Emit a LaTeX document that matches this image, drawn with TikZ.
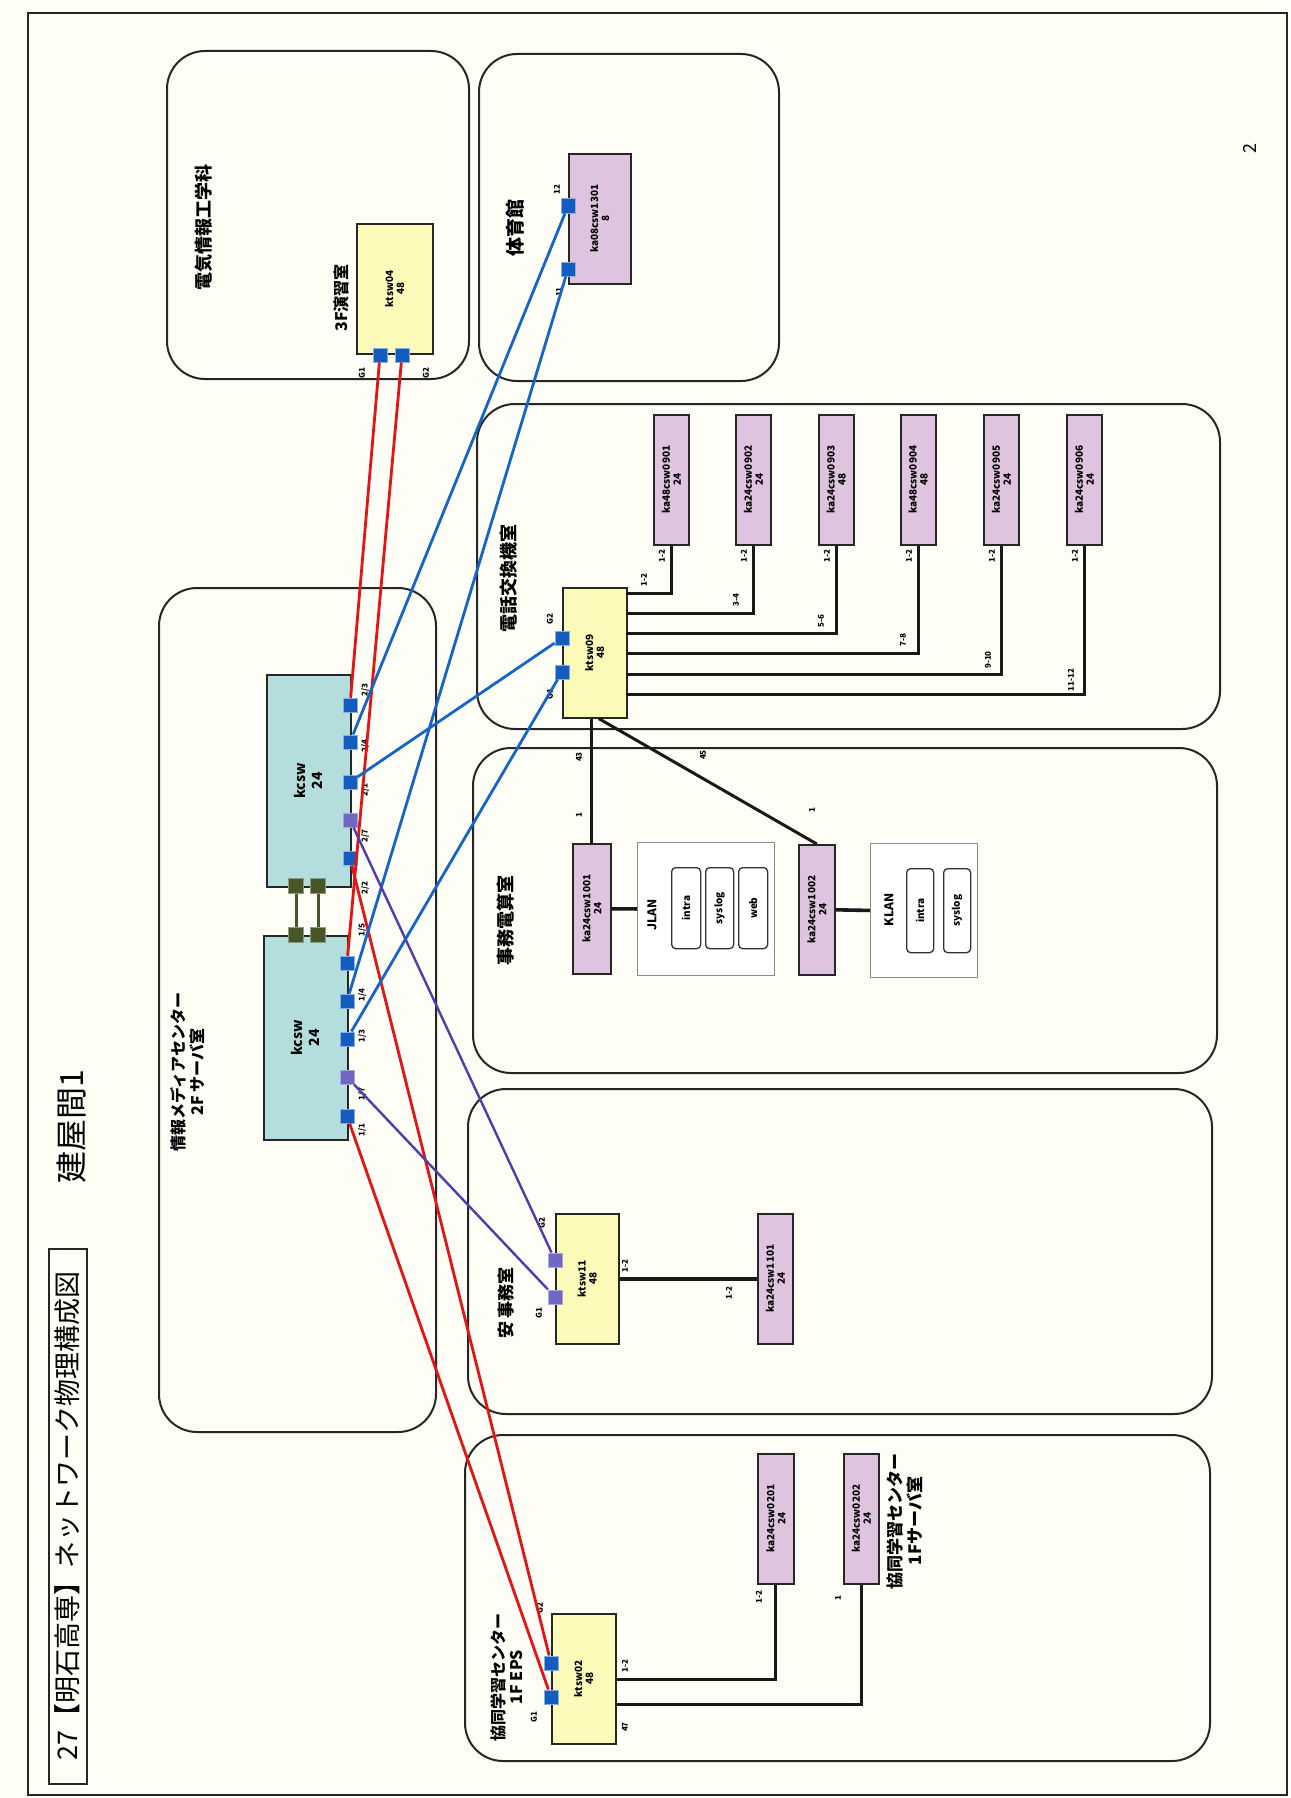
\documentclass[tikz,border=0pt]{standalone}
\usepackage{fontspec}
\setmainfont{Noto Sans CJK JP}
\usetikzlibrary{calc}
\definecolor{bgc}{RGB}{254,254,246}
\definecolor{yfill}{RGB}{252,250,185}
\definecolor{pfill}{RGB}{222,196,222}
\definecolor{cfill}{RGB}{180,222,222}
\definecolor{redl}{RGB}{228,20,20}
\definecolor{bluel}{RGB}{22,100,200}
\definecolor{purl}{RGB}{80,60,170}
\definecolor{portb}{RGB}{22,92,190}
\definecolor{portedge}{RGB}{130,175,230}
\definecolor{portp}{RGB}{112,104,192}
\definecolor{portpedge}{RGB}{170,165,225}
\definecolor{linkg}{RGB}{70,86,40}
\begin{document}
\begin{tikzpicture}[x=1pt,y=-1pt,
  room/.style={draw=black!85, line width=2pt, rounded corners=38pt, anchor=north west, inner sep=0pt},
  sw/.style={draw=black!85, line width=1.6pt, anchor=north west, inner sep=0pt},
  ysw/.style={sw, fill=yfill},
  psw/.style={sw, fill=pfill},
  csw/.style={sw, fill=cfill},
  swtext/.style={rotate=90, align=center, font=\fontsize{10}{11}\selectfont\bfseries},
  port/.style={fill=portb, draw=portedge, line width=1pt, minimum size=14pt, inner sep=0pt},
  pport/.style={port, fill=portp, draw=portpedge},
  lport/.style={fill=linkg, draw=linkg!60, line width=0.8pt, minimum size=15pt, inner sep=0pt},
  plabel/.style={rotate=90, font=\fontsize{8}{9}\selectfont\bfseries, inner sep=0pt},
  rlabel/.style={rotate=90, align=center, font=\fontsize{18}{21}\selectfont\bfseries},
  lanbox/.style={draw=black!45, line width=0.9pt, anchor=north west, fill=white, inner sep=0pt},
  inbox/.style={draw=black!80, line width=1.3pt, rounded corners=4pt, fill=white, anchor=north west, inner sep=0pt},
  redc/.style={draw=redl, line width=2.8pt},
  bluec/.style={draw=bluel, line width=2.8pt},
  purc/.style={draw=purl, line width=2.4pt},
  linkc/.style={draw=linkg, line width=3pt},
  blk/.style={draw=black!90, line width=3pt}]
\fill[bgc] (0,0) rectangle (1290,1798);
\useasboundingbox (0,0) rectangle (1290,1798);
\draw[line width=1.6pt, black!85] (28,13) rectangle (1287,1795);

% title
\node[draw=black!85, line width=1.5pt, minimum width=38pt, minimum height=535pt, anchor=north west, inner sep=0pt] (titlebox) at (48,1248) {};
\node[rotate=90, font=\fontsize{27}{29}\selectfont] (title) at (titlebox.center) {27【明石高専】ネットワーク物理構成図};
\node[rotate=90, font=\fontsize{32}{34}\selectfont] (bldg) at (71,1127) {建屋間1};
\node[rotate=90, font=\fontsize{18}{20}\selectfont] (pgno) at (1250,149) {2};

% rooms
\node[room, minimum width=302pt, minimum height=328pt] (r1) at (166,50) {};
\node[room, minimum width=300pt, minimum height=327pt] (r2) at (478,53) {};
\node[room, minimum width=277pt, minimum height=844pt] (r3) at (158,587) {};
\node[room, minimum width=743pt, minimum height=325pt] (r4) at (476,403) {};
\node[room, minimum width=744pt, minimum height=325pt] (r5) at (472,747) {};
\node[room, minimum width=744pt, minimum height=325pt] (r6) at (467,1088) {};
\node[room, minimum width=745pt, minimum height=326pt] (r7) at (464,1434) {};

% room labels
\node[rlabel] (r1t) at (204,227) {電気情報工学科};
\node[rlabel, font=\fontsize{16}{18}\selectfont\bfseries] (r1s) at (341,298) {3F演習室};
\node[rlabel, font=\fontsize{19}{21}\selectfont\bfseries] (r2t) at (515,228) {体育館};
\node[rlabel, font=\fontsize{16}{19}\selectfont\bfseries] (r3t) at (188,1072) {情報メディアセンター\\2F サーバ室};
\node[rlabel] (r4t) at (509,578) {電話交換機室};
\node[rlabel] (r5t) at (506,920) {事務電算室};
\node[rlabel, font=\fontsize{17}{20}\selectfont\bfseries] (r6t) at (506,1303) {安\ 事務室};
\node[rlabel, font=\fontsize{16}{18}\selectfont\bfseries] (r7t) at (507,1677) {協同学習センター\\1F EPS};
\node[rlabel, font=\fontsize{17}{20}\selectfont\bfseries] (r7s) at (905,1521) {協同学習センター\\1Fサーバ室};

% switches
\node[ysw, minimum width=76pt, minimum height=130pt] (k4) at (356,223) {};
\node[swtext] (k4t) at (k4.center) {ktsw04\\48};
\node[psw, minimum width=62pt, minimum height=130pt] (ka08) at (568,153) {};
\node[swtext] (ka08t) at (ka08.center) {ka08csw1301\\8};
\node[csw, minimum width=84pt, minimum height=212pt] (ku) at (266,674) {};
\node[swtext, font=\fontsize{14}{17}\selectfont\bfseries] (kut) at (ku.center) {kcsw\\24};
\node[csw, minimum width=84pt, minimum height=204pt] (kl) at (263,935) {};
\node[swtext, font=\fontsize{14}{17}\selectfont\bfseries] (klt) at (kl.center) {kcsw\\24};
\node[ysw, minimum width=64pt, minimum height=130pt] (k9) at (562,587) {};
\node[swtext] (k9t) at (k9.center) {ktsw09\\48};

\node[psw, minimum width=35pt, minimum height=130pt] (p1) at (653,414) {};
\node[swtext] (p1t) at (p1.center) {ka48csw0901\\24};
\node[psw, minimum width=35pt, minimum height=130pt] (p2) at (735,414) {};
\node[swtext] (p2t) at (p2.center) {ka24csw0902\\24};
\node[psw, minimum width=35pt, minimum height=130pt] (p3) at (818,414) {};
\node[swtext] (p3t) at (p3.center) {ka24csw0903\\48};
\node[psw, minimum width=35pt, minimum height=130pt] (p4) at (900,414) {};
\node[swtext] (p4t) at (p4.center) {ka48csw0904\\48};
\node[psw, minimum width=35pt, minimum height=130pt] (p5) at (983,414) {};
\node[swtext] (p5t) at (p5.center) {ka24csw0905\\24};
\node[psw, minimum width=35pt, minimum height=130pt] (p6) at (1066,414) {};
\node[swtext] (p6t) at (p6.center) {ka24csw0906\\24};

\node[psw, minimum width=38pt, minimum height=130pt] (p1001) at (572,843) {};
\node[swtext] (p1001t) at (p1001.center) {ka24csw1001\\24};
\node[lanbox, minimum width=137pt, minimum height=133pt] (jlan) at (637,842) {};
\node[rotate=90, font=\fontsize{12}{14}\selectfont\bfseries] (jlant) at (652,915) {JLAN};
\node[inbox, minimum width=29pt, minimum height=81pt] (ji) at (671,867) {};
\node[rotate=90, font=\fontsize{10}{12}\selectfont\bfseries] (jit) at (ji.center) {intra};
\node[inbox, minimum width=28pt, minimum height=81pt] (js) at (705,867) {};
\node[rotate=90, font=\fontsize{10}{12}\selectfont\bfseries] (jst) at (js.center) {syslog};
\node[inbox, minimum width=29pt, minimum height=81pt] (jw) at (738,867) {};
\node[rotate=90, font=\fontsize{10}{12}\selectfont\bfseries] (jwt) at (jw.center) {web};

\node[psw, minimum width=36pt, minimum height=130pt] (p1002) at (798,844) {};
\node[swtext] (p1002t) at (p1002.center) {ka24csw1002\\24};
\node[lanbox, minimum width=107pt, minimum height=134pt] (klan) at (870,843) {};
\node[rotate=90, font=\fontsize{12}{14}\selectfont\bfseries] (klant) at (889,910) {KLAN};
\node[inbox, minimum width=27pt, minimum height=84pt] (ki) at (906,868) {};
\node[rotate=90, font=\fontsize{10}{12}\selectfont\bfseries] (kit) at (ki.center) {intra};
\node[inbox, minimum width=27pt, minimum height=84pt] (ks) at (943,868) {};
\node[rotate=90, font=\fontsize{10}{12}\selectfont\bfseries] (kst) at (ks.center) {syslog};

\node[ysw, minimum width=63pt, minimum height=130pt] (k11) at (555,1213) {};
\node[swtext] (k11t) at (k11.center) {ktsw11\\48};
\node[psw, minimum width=35pt, minimum height=130pt] (p1101) at (757,1213) {};
\node[swtext] (p1101t) at (p1101.center) {ka24csw1101\\24};

\node[ysw, minimum width=64pt, minimum height=130pt] (k2) at (551,1613) {};
\node[swtext] (k2t) at (k2.center) {ktsw02\\48};
\node[psw, minimum width=36pt, minimum height=130pt] (p201) at (757,1453) {};
\node[swtext] (p201t) at (p201.center) {ka24csw0201\\24};
\node[psw, minimum width=35pt, minimum height=130pt] (p202) at (843,1453) {};
\node[swtext] (p202t) at (p202.center) {ka24csw0202\\24};

% ports
\node[port] (k4a) at (380,355) {};
\node[port] (k4b) at (402,355) {};
\node[port] (kap12) at (568,206) {};
\node[port] (kap11) at (568,269) {};
\node[port] (ku1) at (350,705) {};
\node[port] (ku2) at (350,742) {};
\node[port] (ku3) at (350,782) {};
\node[pport] (ku4) at (350,820) {};
\node[port] (ku5) at (350,858) {};
\node[port] (kl1) at (347,963) {};
\node[port] (kl2) at (347,1001) {};
\node[port] (kl3) at (347,1039) {};
\node[pport] (kl4) at (347,1077) {};
\node[port] (kl5) at (347,1116) {};
\node[lport] (lu1) at (296,886) {};
\node[lport] (lu2) at (318,886) {};
\node[lport] (ll1) at (296,935) {};
\node[lport] (ll2) at (318,935) {};
\node[port] (k9g2) at (562,638) {};
\node[port] (k9g1) at (562,672) {};
\node[pport] (k11g2) at (555,1260) {};
\node[pport] (k11g1) at (555,1297) {};
\node[port] (k2g2) at (551,1663) {};
\node[port] (k2g1) at (551,1697) {};

% port labels
\node[plabel] (lk4a) at (362,373) {G1};
\node[plabel] (lk4b) at (426,373) {G2};
\node[plabel] (lka12) at (557,190) {12};
\node[plabel] (lka11) at (559,292) {11};
\node[plabel] (lu1t) at (365,690) {2/3};
\node[plabel] (lu2t) at (365,746) {2/4};
\node[plabel] (lu3t) at (365,790) {2/1};
\node[plabel] (lu4t) at (365,836) {2/7};
\node[plabel] (lu5t) at (365,888) {2/2};
\node[plabel] (ll1t) at (362,930) {1/5};
\node[plabel] (ll2t) at (362,995) {1/4};
\node[plabel] (ll3t) at (362,1036) {1/3};
\node[plabel] (ll4t) at (362,1094) {1/7};
\node[plabel] (ll5t) at (362,1130) {1/1};
\node[plabel] (lk9g2) at (550,619) {G2};
\node[plabel] (lk9g1) at (550,694) {G1};
\node[plabel] (lp1) at (662,556) {1-2};
\node[plabel] (lp2) at (744,556) {1-2};
\node[plabel] (lp3) at (827,556) {1-2};
\node[plabel] (lp4) at (909,556) {1-2};
\node[plabel] (lp5) at (992,556) {1-2};
\node[plabel] (lp6) at (1075,556) {1-2};
\node[plabel] (lc1) at (644,580) {1-2};
\node[plabel] (lc2) at (736,600) {3-4};
\node[plabel] (lc3) at (821,621) {5-6};
\node[plabel] (lc4) at (903,640) {7-8};
\node[plabel] (lc5) at (988,660) {9-10};
\node[plabel] (lc6) at (1071,680) {11-12};
\node[plabel] (l43) at (579,757) {43};
\node[plabel] (l1a) at (579,815) {1};
\node[plabel] (l45) at (703,755) {45};
\node[plabel] (l1b) at (812,810) {1};
\node[plabel] (lk11g2) at (542,1223) {G2};
\node[plabel] (lk11g1) at (539,1313) {G1};
\node[plabel] (lk11o) at (625,1266) {1-2};
\node[plabel] (l1101) at (729,1293) {1-2};
\node[plabel] (lk2g2) at (540,1608) {G2};
\node[plabel] (lk2g1) at (534,1717) {G1};
\node[plabel] (lk2o1) at (625,1666) {1-2};
\node[plabel] (lk2o2) at (625,1727) {47};
\node[plabel] (l201) at (759,1597) {1-2};
\node[plabel] (l202) at (838,1598) {1};

% black connectors
\coordinate (k9o1) at (626,593);
\coordinate (k9o2) at (626,613);
\coordinate (k9o3) at (626,633);
\coordinate (k9o4) at (626,653);
\coordinate (k9o5) at (626,674);
\coordinate (k9o6) at (626,694);
\draw[blk] (k9o1) -| (p1.south);
\draw[blk] (k9o2) -| (p2.south);
\draw[blk] (k9o3) -| (p3.south);
\draw[blk] (k9o4) -| (p4.south);
\draw[blk] (k9o5) -| (p5.south);
\draw[blk] (k9o6) -| (p6.south);
\draw[blk] (p1001.north |- k9.south) -- (p1001.north);
\draw[blk] ($(k9.south)+(4,0)$) -- (p1002.north);
\draw[blk, line width=3.6pt] (p1001.east) -- (jlan.west);
\draw[blk, line width=3.6pt] (p1002.east) -- (klan.west);
\draw[blk, line width=3.6pt] (k11.east) -- (p1101.west);
\coordinate (k2o1) at (615,1679);
\coordinate (k2o2) at (615,1704);
\draw[blk] (k2o1) -| (p201.south);
\draw[blk] (k2o2) -| (p202.south);

% stack links
\draw[linkc] (lu1) -- (ll1);
\draw[linkc] (lu2) -- (ll2);

% coloured links
\draw[redc] (k4a) -- (ku1);
\draw[redc] (k4b) -- (kl1);
\draw[redc] (ku5) -- (k2g2);
\draw[redc] (kl5) -- (k2g1);
\draw[bluec] (kap12) -- (ku2);
\draw[bluec] (kap11) -- (kl2);
\draw[bluec] (k9g2) -- (ku3);
\draw[bluec] (k9g1) -- (kl3);
\draw[purc] (ku4) -- (k11g2);
\draw[purc] (kl4) -- (k11g1);
\end{tikzpicture}
\end{document}
